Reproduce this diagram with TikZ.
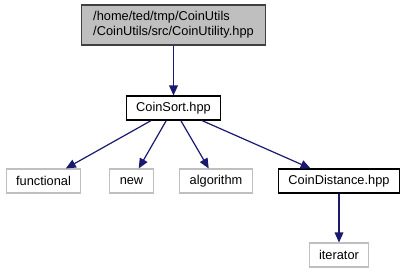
\documentclass[tikz,border=0pt]{standalone}
\usepackage{fontspec}
\setmainfont{Liberation Sans}
\usepackage{xcolor}
\usepackage{tikz}
\usetikzlibrary{arrows.meta}
\usetikzlibrary{positioning}

\definecolor{edgeblue}{HTML}{191970}
\definecolor{curgray}{HTML}{BFBFBF}
\definecolor{curborder}{HTML}{404040}
\definecolor{extgray}{HTML}{BFBFBF}

\begin{document}
\begin{tikzpicture}[>={Triangle[length=7.5pt,width=6.5pt]}, on grid,
  font=\fontsize{9.6}{11}\selectfont,
  file/.style ={rectangle,draw,inner xsep=7.5pt,minimum height=18pt,line width=0.8pt,text=black},
  doc/.style ={file,draw=black,fill=white},
  ext/.style ={file,draw=extgray,fill=white},
  cur/.style ={file,draw=curborder,fill=curgray,align=left,inner xsep=9pt,minimum height=30pt}]
\useasboundingbox (0,0) rectangle (304.5pt,-207pt);
\node[cur] (util) at (130.125pt,-18.75pt) {/home/ted/tmp/CoinUtils\\/CoinUtils/src/CoinUtility.hpp};
\node[doc] (sort) [below=62.25pt of util] {CoinSort.hpp};
\node[ext] (functional) [below left=54.75pt and 97.5pt of sort] {functional};
\node[ext] (new) [below left=54.75pt and 31.5pt of sort] {new};
\node[ext] (algorithm) [below right=54.75pt and 31.875pt of sort] {algorithm};
\node[doc] (dist) [below right=54.75pt and 124.125pt of sort] {CoinDistance.hpp};
\node[ext] (iterator) [below=55.5pt of dist] {iterator};
\path[->, draw=edgeblue, fill=edgeblue, line width=0.9pt]
		(util) edge (sort)
		(sort) edge (functional)
		(sort) edge (new)
		(sort) edge (algorithm)
		(sort) edge (dist)
		(dist) edge (iterator)
		;
\end{tikzpicture}
\end{document}
